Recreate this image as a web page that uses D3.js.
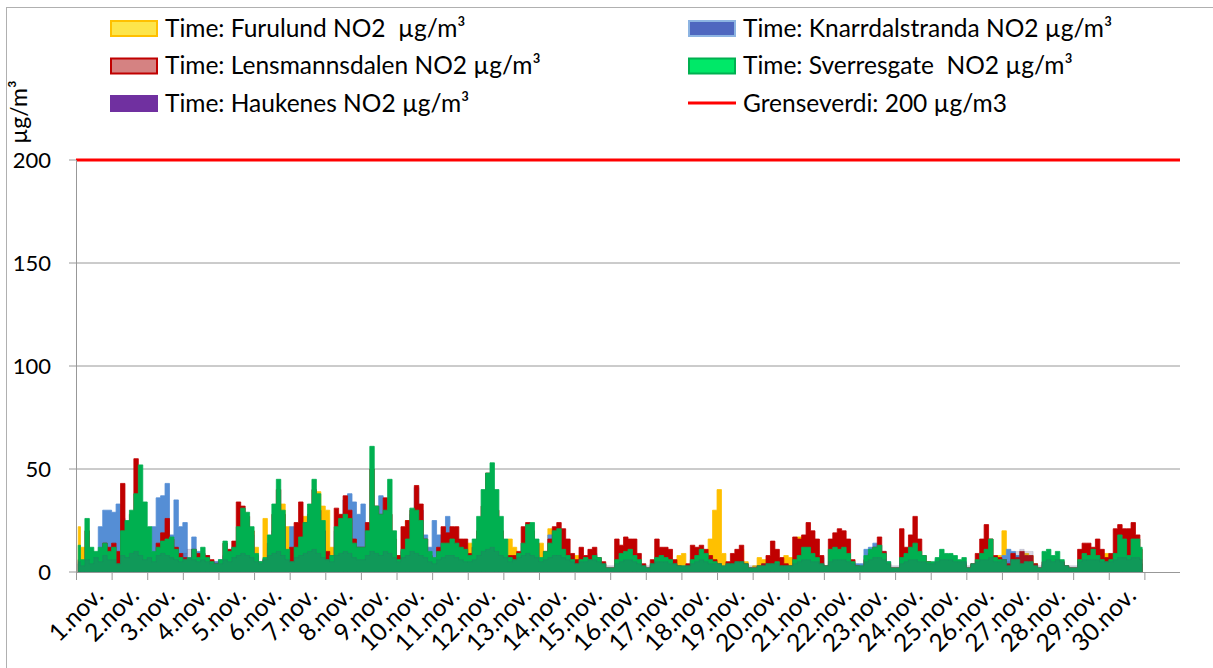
<!DOCTYPE html>
<html>
<head>
<meta charset="utf-8">
<script src="https://cdn.jsdelivr.net/npm/d3@7"></script>
<style>
  body { margin: 0; background: #fff; }
  text { font-family: Lato, "Open Sans", sans-serif; fill: #000; white-space: pre; }
</style>
</head>
<body>
<svg id="chart" width="1213" height="668"></svg>
<script>
// hourly NO2, one value per 3 hours (8 per day), 1.-30. nov
var days = d3.range(1, 31).map(d => d + ".nov.");

var furulund = [
  22,12,6,4,4,4,4,4,   4,4,5,5,6,6,6,5,     5,5,6,6,6,6,5,5,     5,4,5,5,5,5,4,4,
  4,5,6,8,12,16,20,20, 12,5,26,9,14,30,33,22, 6,10,14,27,20,30,39,32, 30,12,10,14,16,14,10,8,
  5,5,6,6,6,6,5,5,     8,10,25,10,10,8,6,6, 5,5,6,6,6,6,5,5,     14,10,10,10,10,10,8,8,
  14,16,12,9,10,12,12,14, 14,8,21,10,10,8,6,5, 8,6,5,5,5,5,4,2,  2,3,4,4,4,4,3,2,
  2,3,4,4,5,4,4,8,     9,3,5,6,6,6,16,30,   40,9,4,5,6,11,5,2,   3,7,6,5,6,6,6,8,
  7,6,17,8,8,6,5,4,    2,3,4,4,4,4,3,2,     2,2,3,3,3,3,2,2,     2,3,4,4,4,4,4,5,
  4,5,6,6,6,5,4,4,     2,3,4,5,5,5,4,8,     20,5,5,6,6,9,8,4,    2,3,4,4,4,4,3,2,
  2,3,4,4,4,5,5,9,     8,8,6,6,5,5,4,4
];

var knarrdalstranda = [
  4,4,4,5,8,22,30,30,  29,33,26,6,6,6,6,8,  10,22,36,37,43,18,35,22, 24,6,17,10,7,8,4,5,
  6,8,8,10,14,20,22,18, 8,5,6,12,20,28,22,10, 22,14,12,15,20,30,25,20, 8,8,20,25,35,38,34,28,
  33,18,20,25,37,30,20,12, 6,10,20,28,41,30,18,12, 25,18,14,27,16,12,10,8, 6,8,10,12,14,14,10,8,
  6,6,6,8,14,16,12,8,  6,8,18,12,10,8,6,5,  3,4,5,6,9,6,4,2,     2,3,4,5,5,4,3,2,
  2,3,3,4,4,3,3,2,     2,2,3,3,4,4,3,3,     2,2,3,3,3,3,2,2,     2,2,2,3,3,3,2,2,
  2,3,4,5,6,5,5,7,     2,4,5,5,6,5,4,4,     4,11,12,14,13,10,5,2, 2,3,4,4,5,4,3,3,
  4,6,8,7,7,6,5,5,     2,3,3,4,5,5,4,4,     8,11,10,8,6,5,4,3,   2,4,5,5,5,4,3,2,
  2,3,4,4,4,4,3,3,     3,4,5,5,5,5,4,4
];

var lensmannsdalen = [
  6,5,20,10,8,10,14,12, 14,10,43,20,28,55,30,12, 8,7,14,19,26,16,12,9, 7,3,11,9,9,8,6,4,
  5,14,11,15,34,32,27,20, 8,4,6,14,28,40,28,10, 12,24,34,24,28,40,30,20, 10,8,31,28,37,30,16,12,
  12,24,50,32,28,36,28,16, 8,22,25,30,42,33,16,8, 4,12,22,19,22,22,16,16, 9,12,20,32,48,40,30,20,
  8,8,8,10,22,24,20,14, 6,10,16,22,24,21,16,9, 6,12,8,11,12,7,5,2, 2,16,13,17,16,16,9,4,
  2,6,16,12,12,11,6,3, 2,4,13,12,13,11,8,6,  4,2,5,9,11,13,4,2,  2,3,4,8,15,11,7,4,
  3,17,16,18,24,20,16,8, 3,16,19,21,20,16,6,3, 2,6,9,12,17,10,4,2, 2,21,12,18,27,16,8,5,
  3,4,6,6,6,5,4,4,     2,4,9,16,23,16,8,7,  6,4,9,7,10,8,8,4,    2,5,6,6,6,5,3,2,
  2,11,14,14,12,16,11,7, 9,21,23,21,21,24,18,11
];

var haukenes = [
  5,3,6,4,7,5,8,6,     6,4,8,7,9,10,8,6,    7,5,8,9,8,7,6,5,     9,11,6,5,6,5,4,5,
  4,6,5,7,8,9,8,7,     5,4,6,8,9,10,8,6,    5,7,8,9,10,11,9,7,   6,5,8,9,10,9,7,6,
  6,8,10,9,8,10,9,7,   5,7,8,10,9,8,7,5,    4,6,7,8,8,7,6,5,     5,6,8,10,11,12,10,8,
  7,5,6,7,8,9,8,7,     5,6,7,8,8,7,6,5,     4,5,5,6,6,5,4,3,     3,4,5,6,6,5,4,3,
  3,4,5,5,5,4,4,3,     3,3,4,5,6,5,4,4,     4,3,4,4,5,5,4,3,     3,3,4,4,4,4,3,3,
  3,4,5,6,6,5,5,4,     3,5,6,6,6,5,4,3,     3,5,6,7,7,6,4,3,     3,4,5,6,6,5,5,4,
  4,5,6,6,6,5,5,5,     3,4,5,6,6,7,5,5,     6,5,6,10,11,10,10,4, 3,5,6,5,6,5,3,3,
  3,5,6,6,6,6,5,5,     5,6,7,7,6,7,7,6
];

var sverresgate = [
  13,6,26,12,10,12,14,10, 12,4,20,25,30,38,52,34, 22,10,12,15,16,17,11,7, 6,7,11,7,12,7,5,4,
  6,15,10,12,22,31,29,22, 9,5,7,18,33,45,30,11, 5,12,17,24,33,45,38,25, 6,8,22,26,28,26,14,12,
  12,20,61,32,28,30,45,20, 6,11,16,31,30,25,16,10, 7,10,14,14,16,14,12,11, 8,16,27,40,48,53,40,27,
  16,7,6,9,14,23,24,16, 7,10,14,20,21,11,8,6, 4,6,7,6,8,7,4,2,  2,6,9,10,11,8,6,3,
  2,4,7,8,7,6,4,3,     3,3,6,8,11,9,6,5,    4,3,4,4,5,5,4,2,     2,3,3,4,4,5,3,3,
  3,6,8,12,12,9,7,4,   3,11,12,11,12,9,5,3, 3,8,11,12,13,9,5,2,  2,7,9,12,14,10,8,5,
  5,7,11,9,9,8,6,7,    2,4,6,9,11,16,7,6,   6,3,6,6,4,5,5,3,     2,10,11,8,10,6,3,2,
  2,6,9,8,11,8,6,5,    6,9,18,16,8,16,16,12
];

var limitValue = 200;
var yTicks = [0, 50, 100, 150, 200];

var svg = d3.select("#chart");

// outer chart frame
svg.append("rect")
  .attr("x", 6.5).attr("y", 7.5)
  .attr("width", 1240).attr("height", 700)
  .attr("fill", "none").attr("stroke", "#b0b0b0");

var x = d3.scaleLinear().domain([0, 744]).range([76, 1180]);
var y = d3.scaleLinear().domain([0, 200]).range([572, 160]);

// gridlines
svg.append("g").selectAll("line")
  .data(yTicks.filter(d => d > 0))
  .enter().append("line")
    .attr("x1", 76).attr("x2", 1180)
    .attr("y1", d => y(d)).attr("y2", d => y(d))
    .attr("stroke", "#989898").attr("stroke-width", 1);

var series = [
  {name: "Time: Furulund NO2  µg/m³", values: furulund, color: "#FFC000", opacity: 1},
  {name: "Time: Knarrdalstranda NO2 µg/m³", values: knarrdalstranda, color: "#558ED5", opacity: 1},
  {name: "Time: Lensmannsdalen NO2 µg/m³", values: lensmannsdalen, color: "#C00000", opacity: 1},
  {name: "Time: Sverresgate  NO2 µg/m³", values: sverresgate, color: "#00B050", opacity: 1},
  {name: "Time: Haukenes NO2 µg/m³", values: haukenes, color: "#4A4A7A", opacity: 0.22}
];

var area = d3.area()
  .x((d, i) => x(i * 3 + 1.5))
  .y0(y(0))
  .y1(d => y(d))
  .curve(d3.curveStep);

svg.append("g").selectAll("path")
  .data(series)
  .enter().append("path")
    .attr("d", d => area(d.values))
    .attr("fill", d => d.color)
    .attr("fill-opacity", d => d.opacity)
    .attr("stroke", d => d.color)
    .attr("stroke-opacity", d => d.opacity)
    .attr("stroke-width", 0.8);

// limit line
svg.append("line")
  .attr("x1", 76).attr("x2", 1180)
  .attr("y1", y(limitValue)).attr("y2", y(limitValue))
  .attr("stroke", "#FF0000").attr("stroke-width", 3);

// y axis
var yAxis = svg.append("g");
yAxis.append("line")
  .attr("x1", 76.5).attr("x2", 76.5)
  .attr("y1", y(200)).attr("y2", y(0))
  .attr("stroke", "#989898");
yAxis.selectAll("line.tick")
  .data(yTicks).enter().append("line")
    .attr("class", "tick")
    .attr("x1", 69).attr("x2", 76)
    .attr("y1", d => y(d)).attr("y2", d => y(d))
    .attr("stroke", "#989898");
yAxis.selectAll("text")
  .data(yTicks).enter().append("text")
    .attr("x", 51).attr("y", d => y(d))
    .attr("dy", "0.35em")
    .attr("text-anchor", "end")
    .style("font-size", "22px")
    .text(d => d);

svg.append("text")
  .attr("transform", "translate(27,112) rotate(-90)")
  .attr("text-anchor", "middle")
  .style("font-size", "23px")
  .text("µg/m³");

// x axis
var xAxis = svg.append("g");
xAxis.append("line")
  .attr("x1", 76).attr("x2", 1180)
  .attr("y1", 572.5).attr("y2", 572.5)
  .attr("stroke", "#989898");
xAxis.selectAll("line.tick")
  .data(d3.range(0, 31)).enter().append("line")
    .attr("class", "tick")
    .attr("x1", d => x(d * 24) + 0.5).attr("x2", d => x(d * 24) + 0.5)
    .attr("y1", 572).attr("y2", 580)
    .attr("stroke", "#989898");
xAxis.selectAll("text")
  .data(days).enter().append("text")
    .attr("transform", (d, i) => "translate(" + (x(i * 24 + 12) + 5) + ",591) rotate(-45)")
    .attr("text-anchor", "end")
    .attr("dy", "0.35em")
    .style("font-size", "24.5px")
    .text(d => d);

// legend
var legendItems = [
  {name: series[0].name, fill: "#FDE54B", stroke: "#FFC000", col: 0, row: 0},
  {name: series[2].name, fill: "#D58282", stroke: "#C00000", col: 0, row: 1},
  {name: series[4].name, fill: "#7030A0", stroke: "#7030A0", col: 0, row: 2},
  {name: series[1].name, fill: "#4F67BF", stroke: "#8DB4E2", col: 1, row: 0},
  {name: series[3].name, fill: "#00E868", stroke: "#00B050", col: 1, row: 1},
  {name: "Grenseverdi: 200 µg/m3", line: "#FF0000", col: 1, row: 2}
];
var legend = svg.append("g").selectAll("g")
  .data(legendItems).enter().append("g")
    .attr("transform", d => "translate(" + (d.col ? 688 : 110) + "," + (28 + d.row * 37.5) + ")");
legend.filter(d => !d.line).append("rect")
  .attr("x", 1).attr("y", -7).attr("width", 46).attr("height", 15)
  .attr("fill", d => d.fill).attr("stroke", d => d.stroke).attr("stroke-width", 2);
legend.filter(d => d.line).append("line")
  .attr("x1", 0).attr("x2", 48).attr("y1", 0).attr("y2", 0)
  .attr("stroke", d => d.line).attr("stroke-width", 3);
legend.append("text")
  .attr("x", 55).attr("dy", "0.35em")
  .style("font-size", "24.5px")
  .text(d => d.name);
</script>
</body>
</html>
